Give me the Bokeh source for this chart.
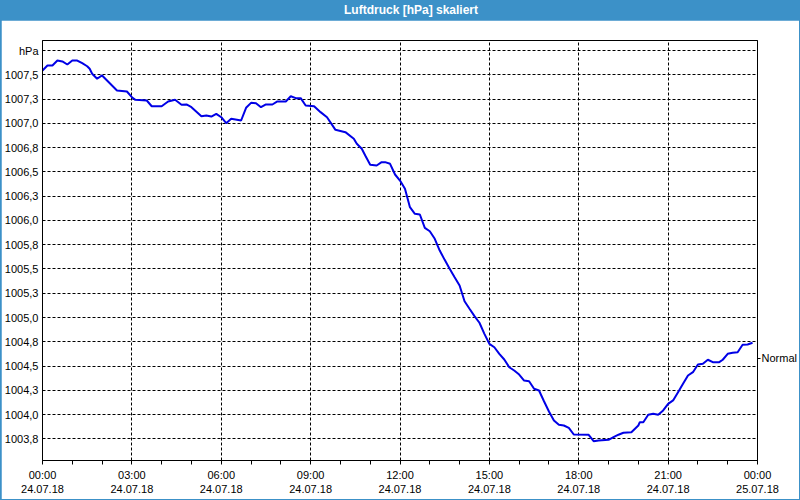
from bokeh.plotting import figure
from bokeh.models import Range1d, FixedTicker, LinearAxis, Div
from bokeh.layouts import column
from bokeh.embed import file_html
from bokeh.resources import INLINE

# time in minutes since 24.07.18 00:00
minutes = [0, 10, 20, 30, 40, 50, 60, 70, 80, 90, 95, 100, 110, 120, 130, 150, 170, 180, 187,
           210, 220, 240, 253, 267, 280, 290, 300, 320, 330, 340, 350, 360, 370, 380, 400,
           410, 420, 430, 440, 450, 463, 473, 490, 500, 510, 520, 530, 547, 560, 573, 590,
           610, 627, 633, 643, 650, 660, 673, 683, 690, 700, 710, 720, 730, 740, 750, 760,
           770, 780, 790, 800, 810, 820, 830, 840, 850, 860, 870, 880, 890, 900, 910, 920,
           930, 940, 950, 960, 970, 980, 990, 1000, 1010, 1020, 1030, 1040, 1050, 1060, 1070,
           1100, 1110, 1120, 1140, 1150, 1160, 1170, 1186, 1200, 1203, 1210, 1220, 1230, 1240,
           1250, 1260, 1270, 1280, 1290, 1300, 1310, 1320, 1330, 1340, 1350, 1363, 1370, 1380,
           1390, 1400, 1410, 1420, 1430]
hpa = [1007.544, 1007.596, 1007.596, 1007.647, 1007.637, 1007.606, 1007.647, 1007.647,
       1007.619, 1007.588, 1007.562, 1007.510, 1007.459, 1007.493, 1007.441, 1007.338,
       1007.328, 1007.269, 1007.242, 1007.235, 1007.176, 1007.176, 1007.225, 1007.242,
       1007.191, 1007.194, 1007.166, 1007.073, 1007.081, 1007.070, 1007.098, 1007.063,
       1007.001, 1007.047, 1007.029, 1007.160, 1007.211, 1007.207, 1007.166, 1007.194,
       1007.194, 1007.225, 1007.225, 1007.279, 1007.259, 1007.259, 1007.184, 1007.176,
       1007.115, 1007.063, 1006.933, 1006.909, 1006.841, 1006.789, 1006.738, 1006.669,
       1006.573, 1006.566, 1006.600, 1006.600, 1006.583, 1006.473, 1006.411, 1006.326,
       1006.136, 1006.068, 1006.061, 1005.924, 1005.889, 1005.811, 1005.690, 1005.594,
       1005.502, 1005.415, 1005.330, 1005.168, 1005.090, 1005.014, 1004.946, 1004.832,
       1004.729, 1004.694, 1004.626, 1004.568, 1004.488, 1004.454, 1004.413, 1004.351,
       1004.344, 1004.266, 1004.248, 1004.138, 1004.032, 1003.939, 1003.895, 1003.888,
       1003.864, 1003.795, 1003.792, 1003.726, 1003.734, 1003.741, 1003.768, 1003.793,
       1003.813, 1003.819, 1003.888, 1003.922, 1003.922, 1003.998, 1004.009, 1003.998,
       1004.043, 1004.111, 1004.146, 1004.231, 1004.317, 1004.403, 1004.437, 1004.516,
       1004.523, 1004.565, 1004.540, 1004.540, 1004.565, 1004.626, 1004.637, 1004.643,
       1004.719, 1004.722, 1004.740]

y_ticks = [1003.75, 1004.0, 1004.25, 1004.5, 1004.75, 1005.0, 1005.25, 1005.5, 1005.75,
           1006.0, 1006.25, 1006.5, 1006.75, 1007.0, 1007.25, 1007.5, 1007.75]
y_labels = ["1003,8", "1004,0", "1004,3", "1004,5", "1004,8", "1005,0", "1005,3", "1005,5",
            "1005,8", "1006,0", "1006,3", "1006,5", "1006,8", "1007,0", "1007,3", "1007,5", "hPa"]
x_ticks = [0, 180, 360, 540, 720, 900, 1080, 1260, 1440]
x_labels = ["00:00\n24.07.18", "03:00\n24.07.18", "06:00\n24.07.18", "09:00\n24.07.18",
            "12:00\n24.07.18", "15:00\n24.07.18", "18:00\n24.07.18", "21:00\n24.07.18",
            "00:00\n25.07.18"]
x_minor = [60, 120, 240, 300, 420, 480, 600, 660, 780, 840, 960, 1020, 1140, 1200, 1320, 1380]
normal_value = 1004.58
title_text = "Luftdruck [hPa] skaliert"

FONT = "Liberation Sans"
BLUE_BAR = "#3C91C8"

p = figure(width=798, height=479, x_range=Range1d(0, 1440),
           y_range=Range1d(1003.5275, 1007.853),
           output_backend="svg", toolbar_location=None,
           min_border_left=39, min_border_right=39, min_border_top=20, min_border_bottom=39,
           margin=(0, 1, 1, 1), background_fill_color="white", border_fill_color="white",
           x_axis_location="below", y_axis_location="left")
p.outline_line_color = "black"
p.outline_line_alpha = 1.0
p.outline_line_width = 1

p.line(minutes, hpa, line_color="#0000E6", line_width=2)

# x axis
xa = p.xaxis[0]
xa.ticker = FixedTicker(ticks=x_ticks, minor_ticks=x_minor)
xa.major_label_overrides = {t: l for t, l in zip(x_ticks, x_labels)}
xa.major_tick_in = 0
xa.major_tick_out = 4
xa.minor_tick_in = 0
xa.minor_tick_out = 4
xa.major_tick_line_color = "black"
xa.minor_tick_line_color = "black"
xa.axis_line_color = "black"
xa.major_label_text_font = FONT
xa.major_label_text_font_size = "11px"
xa.major_label_text_color = "black"
xa.major_label_standoff = 4

# y axis
ya = p.yaxis[0]
ya.ticker = FixedTicker(ticks=y_ticks, minor_ticks=[])
ya.major_label_overrides = {t: l for t, l in zip(y_ticks, y_labels)}
ya.major_tick_in = 0
ya.major_tick_out = 0
ya.axis_line_color = "black"
ya.major_label_text_font = FONT
ya.major_label_text_font_size = "11px"
ya.major_label_text_color = "black"
ya.major_label_standoff = 4

# right axis with "Normal" marker
ra = LinearAxis(ticker=FixedTicker(ticks=[normal_value], minor_ticks=[]),
                major_label_overrides={normal_value: "Normal"})
ra.major_tick_in = 0
ra.major_tick_out = 3
ra.axis_line_color = "black"
ra.major_tick_line_color = "black"
ra.major_label_text_font = FONT
ra.major_label_text_font_size = "11px"
ra.major_label_text_color = "black"
ra.major_label_standoff = 1
p.add_layout(ra, "right")

# grid
for g in (p.xgrid[0], p.ygrid[0]):
    g.grid_line_color = "black"
    g.grid_line_dash = "3 2"
    g.grid_line_width = 1
    g.grid_line_alpha = 1.0

title = Div(text=title_text, width=800, height=20, margin=(0, 0, 0, 0),
            styles={"background-color": BLUE_BAR, "color": "white", "font-family": FONT,
                    "font-weight": "bold", "font-size": "12px", "text-align": "center",
                    "line-height": "20px", "padding-left": "22px", "box-sizing": "border-box",
                    "width": "800px", "height": "20px", "overflow": "hidden"})

layout = column(title, p, width=800, height=500, spacing=0, margin=(0, 0, 0, 0),
                styles={"background-color": BLUE_BAR})

open("out.html", "w").write(file_html(layout, INLINE))
